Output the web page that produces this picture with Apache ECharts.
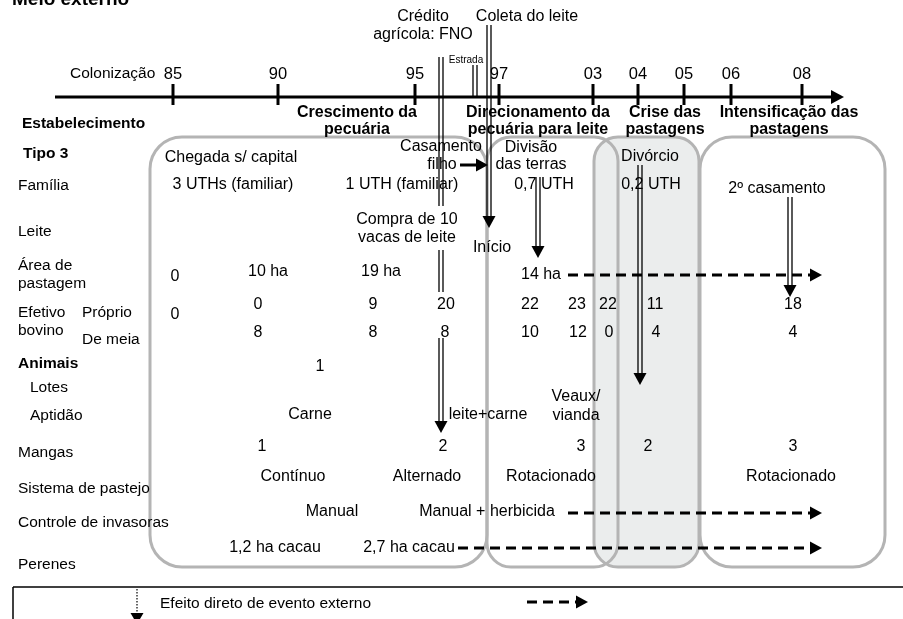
<!DOCTYPE html>
<html><head><meta charset="utf-8">
<script src="https://cdn.jsdelivr.net/npm/echarts@6.0.0/dist/echarts.min.js"></script>
<style>html,body{margin:0;padding:0;background:#fff}#c{width:903px;height:619px}</style>
</head><body><div id="c"></div>
<script>
// ---------- data (diagram units: x along the page, y down the page) ----------
const tickLabels = ['85','90','95','97','03','04','05','06','08'];
const tickPos    = [173, 278, 415, 499, 593, 638, 684, 731, 802];

const titleText = [[12, 0, 'Meio externo']];
const boldLeft  = [[22, 124, 'Estabelecimento'], [23, 154, 'Tipo 3'], [18, 364, 'Animais']];
const rowLabels = [[70, 74, 'Colonização'], [18, 186, 'Família'], [18, 232, 'Leite'],
  [18, 266, 'Área de'], [18, 284, 'pastagem'], [18, 313, 'Efetivo'], [82, 313, 'Próprio'],
  [18, 331, 'bovino'], [82, 340, 'De meia'], [30, 388, 'Lotes'], [30, 416, 'Aptidão'],
  [18, 453, 'Mangas'], [18, 489, 'Sistema de pastejo'], [18, 523, 'Controle de invasoras'],
  [18, 565, 'Perenes']];
const phaseLabels = [[357, 'Crescimento da', 'pecuária'], [538, 'Direcionamento da', 'pecuária para leite'],
  [665, 'Crise das', 'pastagens'], [789, 'Intensificação das', 'pastagens']];
const eventLabels = [[423, 17, 'Crédito'], [423, 35, 'agrícola: FNO'], [527, 17, 'Coleta do leite'],
  [441, 147, 'Casamento'], [442, 165, 'filho'], [407, 220, 'Compra de 10'], [407, 238, 'vacas de leite'],
  [492, 248, 'Início'], [531, 148, 'Divisão'], [531, 165, 'das terras'], [650, 157, 'Divórcio'],
  [777, 189, '2º casamento'], [231, 158, 'Chegada s/ capital']];
const smallLabels = [[466, 60, 'Estrada']];

const familia  = [[233, 185, '3 UTHs (familiar)'], [402, 185, '1 UTH (familiar)'], [544, 185, '0,7 UTH'], [651, 185, '0,2 UTH']];
const area     = [[175, 277, '0'], [268, 272, '10 ha'], [381, 272, '19 ha'], [541, 275, '14 ha']];
const proprio  = [[175, 315, '0'], [258, 305, '0'], [373, 305, '9'], [446, 305, '20'], [530, 305, '22'],
  [577, 305, '23'], [608, 305, '22'], [655, 305, '11'], [793, 305, '18']];
const deMeia   = [[258, 333, '8'], [373, 333, '8'], [445, 333, '8'], [530, 333, '10'], [578, 333, '12'],
  [609, 333, '0'], [656, 333, '4'], [793, 333, '4']];
const lotes    = [[320, 367, '1']];
const aptidao  = [[310, 415, 'Carne'], [488, 415, 'leite+carne'], [576, 397, 'Veaux/'], [576, 416, 'vianda']];
const mangas   = [[262, 447, '1'], [443, 447, '2'], [581, 447, '3'], [648, 447, '2'], [793, 447, '3']];
const sistema  = [[293, 477, 'Contínuo'], [427, 477, 'Alternado'], [551, 477, 'Rotacionado'], [791, 477, 'Rotacionado']];
const controle = [[332, 512, 'Manual'], [487, 512, 'Manual + herbicida']];
const perenes  = [[275, 548, '1,2 ha cacau'], [409, 548, '2,7 ha cacau']];
const legendText = [[160, 604, 'Efeito direto de evento externo']];

// boxes: x0, y0, x1, y1
const periodBoxes = [[150, 137, 487, 567], [487, 137, 618, 567], [594, 137, 699, 567], [700, 137, 885, 567]];
const shadedBoxes = [[594, 137, 699, 567]];
// double (event) lines: x, y0, y1, arrowTip or null
const eventLines = [[441, 57, 206, null], [441, 250, 292, null], [441, 338, 433, 433],
  [489, 25, 228, 228], [475, 65, 96, null], [538, 177, 258, 258], [640, 165, 385, 385], [790, 197, 297, 297]];
// dashed arrows: x0, x1, y
const dashedArrows = [[568, 822, 275], [568, 822, 513], [458, 822, 548], [527, 588, 602]];
// solid arrows: x0, x1, y
const solidArrows = [[460, 488, 165]];
const timeline = [[55, 844, 97]];

// ---------- chart ----------
const FONT = '"Liberation Sans", Arial, Helvetica, sans-serif';
function textSeries(arr, size, weight, align, z) {
  return {
    type: 'custom', coordinateSystem: 'cartesian2d', silent: true, clip: false, z: z || 5,
    data: arr.map(d => [d[0], d[1]]),
    renderItem: (params, api) => {
      const d = arr[params.dataIndex];
      const p = api.coord([d[0], d[1]]);
      return {type: 'text', x: p[0], y: p[1],
        style: {text: d[2], fontSize: size, fontFamily: FONT, fontWeight: weight, fill: '#000',
          align: align, verticalAlign: 'middle'}};
    }
  };
}
const phaseTexts = [];
phaseLabels.forEach(p => { phaseTexts.push([p[0], 113, p[1]]); phaseTexts.push([p[0], 130, p[2]]); });
const tickTexts = tickLabels.map((t, i) => [tickPos[i], 74, t]);

function customSeries(arr, z, fn) {
  return {type: 'custom', coordinateSystem: 'cartesian2d', silent: true, clip: false, z: z,
    data: arr.map(d => [d[0], d[1]]),
    renderItem: (params, api) => fn(arr[params.dataIndex], api)};
}
const series = [
  customSeries(shadedBoxes, 1, (d, api) => {
    const a = api.coord([d[0], d[1]]), b = api.coord([d[2], d[3]]);
    return {type: 'rect', shape: {x: a[0], y: a[1], width: b[0] - a[0], height: b[1] - a[1], r: 24},
      style: {fill: '#ebeded', stroke: null}};
  }),
  customSeries(periodBoxes, 2, (d, api) => {
    const a = api.coord([d[0], d[1]]), b = api.coord([d[2], d[3]]);
    const w = b[0] - a[0];
    return {type: 'rect', shape: {x: a[0], y: a[1], width: w, height: b[1] - a[1], r: w > 150 ? 32 : 24},
      style: {fill: null, stroke: '#b4b4b4', lineWidth: 3}};
  }),
  customSeries(timeline, 6, (d, api) => {
    const a = api.coord([d[0], d[2]]), b = api.coord([d[1], d[2]]);
    return {type: 'group', children: [
      {type: 'line', shape: {x1: a[0], y1: a[1], x2: b[0] - 10, y2: b[1]}, style: {stroke: '#000', lineWidth: 3}},
      {type: 'polygon', shape: {points: [[b[0] - 13, b[1] - 7], [b[0], b[1]], [b[0] - 13, b[1] + 7]]}, style: {fill: '#000'}}
    ]};
  }),
  customSeries(tickPos.map(x => [x, 97]), 6, (d, api) => {
    const a = api.coord([d[0], 84]), b = api.coord([d[0], 105]);
    return {type: 'line', shape: {x1: a[0], y1: a[1], x2: b[0], y2: b[1]}, style: {stroke: '#000', lineWidth: 3}};
  }),
  textSeries(titleText, 19, 'bold', 'left'),
  textSeries(boldLeft, 15.5, 'bold', 'left'),
  textSeries(rowLabels, 15.5, 'normal', 'left'),
  textSeries(phaseTexts, 16, 'bold', 'center'),
  textSeries(tickTexts, 16.5, 'normal', 'center'),
  textSeries(eventLabels, 16, 'normal', 'center'),
  textSeries(smallLabels, 10, 'normal', 'center'),
  textSeries(familia, 16, 'normal', 'center'),
  textSeries(area, 16, 'normal', 'center'),
  textSeries(proprio, 16, 'normal', 'center'),
  textSeries(deMeia, 16, 'normal', 'center'),
  textSeries(lotes, 16, 'normal', 'center'),
  textSeries(aptidao, 16, 'normal', 'center'),
  textSeries(mangas, 16, 'normal', 'center'),
  textSeries(sistema, 16, 'normal', 'center'),
  textSeries(controle, 16, 'normal', 'center'),
  textSeries(perenes, 16, 'normal', 'center'),
  textSeries(legendText, 15.5, 'normal', 'left'),
  customSeries(eventLines, 8, (d, api) => {
    const a = api.coord([d[0], d[1]]);
    const end = d[3] !== null ? d[2] - 11 : d[2];
    const b = api.coord([d[0], end]);
    const ch = [
      {type: 'line', shape: {x1: a[0] - 2, y1: a[1], x2: b[0] - 2, y2: b[1]}, style: {stroke: '#000', lineWidth: 1.3}},
      {type: 'line', shape: {x1: a[0] + 2, y1: a[1], x2: b[0] + 2, y2: b[1]}, style: {stroke: '#000', lineWidth: 1.3}}
    ];
    if (d[3] !== null) {
      const t = api.coord([d[0], d[3]]);
      ch.push({type: 'polygon', shape: {points: [[t[0] - 6.5, t[1] - 12], [t[0] + 6.5, t[1] - 12], [t[0], t[1]]]}, style: {fill: '#000'}});
    }
    return {type: 'group', children: ch};
  }),
  customSeries(dashedArrows, 8, (d, api) => {
    const a = api.coord([d[0], d[2]]), b = api.coord([d[1], d[2]]);
    return {type: 'group', children: [
      {type: 'line', shape: {x1: a[0], y1: a[1], x2: b[0] - 12, y2: b[1]}, style: {stroke: '#000', lineWidth: 3, lineDash: [10, 6]}},
      {type: 'polygon', shape: {points: [[b[0] - 12, b[1] - 6.5], [b[0], b[1]], [b[0] - 12, b[1] + 6.5]]}, style: {fill: '#000'}}
    ]};
  }),
  customSeries(solidArrows, 8, (d, api) => {
    const a = api.coord([d[0], d[2]]), b = api.coord([d[1], d[2]]);
    return {type: 'group', children: [
      {type: 'line', shape: {x1: a[0], y1: a[1], x2: b[0] - 11, y2: b[1]}, style: {stroke: '#000', lineWidth: 3}},
      {type: 'polygon', shape: {points: [[b[0] - 12, b[1] - 6.5], [b[0], b[1]], [b[0] - 12, b[1] + 6.5]]}, style: {fill: '#000'}}
    ]};
  }),
  // legend frame and dotted arrow
  customSeries([[13, 587]], 8, (d, api) => {
    const a = api.coord([d[0], d[1]]), r = api.coord([903, d[1]]), bl = api.coord([d[0], 619]);
    const s1 = api.coord([137, 589]), s2 = api.coord([137, 613]);
    return {type: 'group', children: [
      {type: 'line', shape: {x1: a[0], y1: a[1], x2: r[0], y2: r[1]}, style: {stroke: '#000', lineWidth: 1.5}},
      {type: 'line', shape: {x1: a[0], y1: a[1], x2: bl[0], y2: bl[1]}, style: {stroke: '#000', lineWidth: 1.5}},
      {type: 'line', shape: {x1: s1[0], y1: s1[1], x2: s2[0], y2: s2[1]}, style: {stroke: '#000', lineWidth: 1.2, lineDash: [1.5, 1.5]}},
      {type: 'polygon', shape: {points: [[s2[0] - 6.5, s2[1]], [s2[0] + 6.5, s2[1]], [s2[0], s2[1] + 11]]}, style: {fill: '#000'}}
    ]};
  })
];

const chart = echarts.init(document.getElementById('c'), null, {renderer: 'canvas'});
chart.setOption({
  animation: false,
  backgroundColor: '#fff',
  grid: {left: 0, right: 0, top: 0, bottom: 0},
  xAxis: {type: 'value', min: 0, max: 903, show: false},
  yAxis: {type: 'value', min: 0, max: 619, inverse: true, show: false},
  series: series
});
</script></body></html>
